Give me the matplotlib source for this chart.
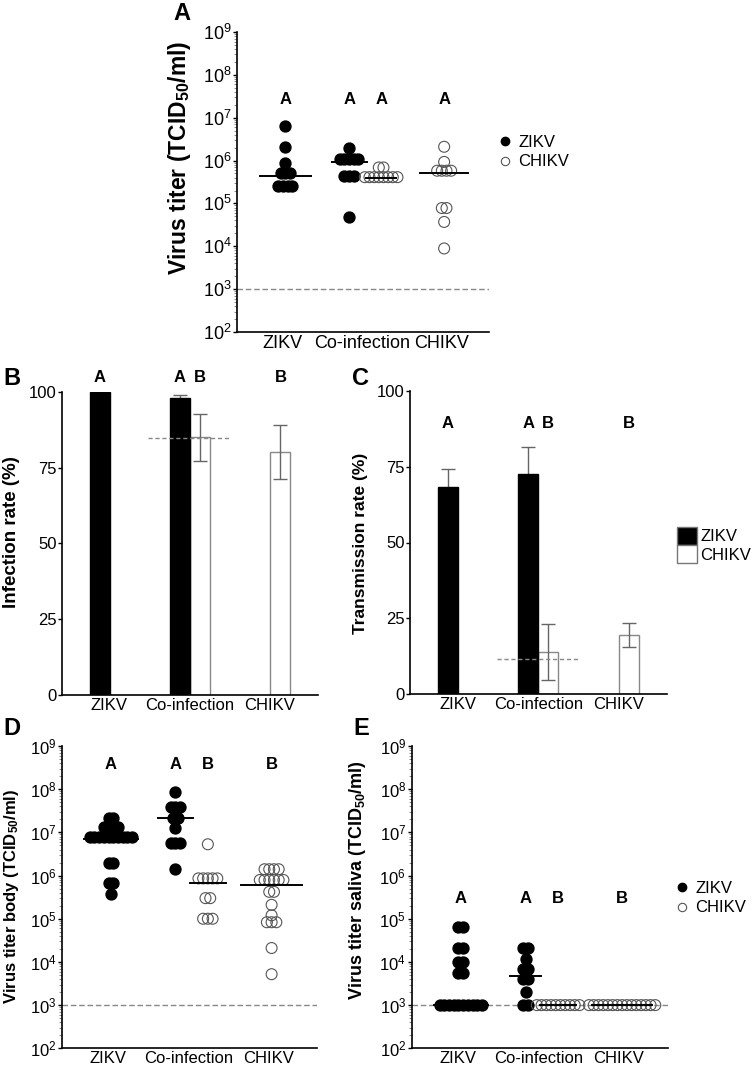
import numpy as np
import matplotlib
matplotlib.use('Agg')
import matplotlib.pyplot as plt
from matplotlib.lines import Line2D
from matplotlib.patches import Patch

plt.rcParams['font.family'] = ['Liberation Sans', 'DejaVu Sans']
plt.rcParams['mathtext.fontset'] = 'custom'
plt.rcParams['mathtext.rm'] = 'Liberation Sans'
plt.rcParams['mathtext.it'] = 'Liberation Sans:italic'
plt.rcParams['mathtext.bf'] = 'Liberation Sans:bold'

groups = ['ZIKV', 'Co-infection', 'CHIKV']

# A: virus titer in the blood meal / inoculum (TCID50/ml)
a_zikv = [6.5e6, 2.1e6, 8.9e5] + [5.2e5] * 3 + [2.5e5] * 4
a_co_zikv = [2.0e6] + [1.1e6] * 5 + [4.4e5] * 3 + [4.8e4]
a_co_chikv = [6.9e5] * 2 + [4.1e5] * 8
a_chikv = [2.1e6, 9.3e5] + [5.8e5] * 4 + [7.8e4] * 2 + [3.7e4, 8.9e3]
a_medians = [4.4e5, 9.1e5, 3.9e5, 5.0e5]
a_letters = ['A', 'A', 'A', 'A']

# B: infection rate (%)
b_zikv = [100.0, 97.8]
b_zikv_err = [0.0, 1.1]
b_chikv = [85.0, 80.0]
b_chikv_err = [7.7, 8.9]
b_expected = 84.6
b_letters = ['A', 'A', 'B', 'B']

# C: transmission rate (%)
c_zikv = [68.4, 72.5]
c_zikv_err = [5.7, 8.9]
c_chikv = [13.9, 19.5]
c_chikv_err = [9.2, 3.9]
c_expected = 11.5
c_letters = ['A', 'A', 'B', 'B']

# D: virus titer body
d_zikv = [2.2e7] * 2 + [1.35e7] * 4 + [8.0e6] * 10 + [2.0e6] * 2 + [6.6e5] * 2 + [3.7e5]
d_co_zikv = [8.5e7] + [3.9e7] * 3 + [2.2e7] * 2 + [1.24e7] + [5.6e6] * 3 + [1.4e6]
d_co_chikv = [5.3e6] + [8.6e5] * 5 + [3.0e5] * 2 + [1.0e5] * 3
d_chikv = [1.4e6] * 4 + [7.9e5] * 6 + [4.2e5] * 2 + [2.1e5, 1.2e5] + [8.3e4] * 3 + [2.1e4, 5.2e3]
d_medians = [7.2e6, 2.1e7, 6.6e5, 5.9e5]
d_letters = ['A', 'A', 'B', 'B']

# E: virus titer saliva
e_zikv = [6.6e4] * 2 + [2.1e4] * 2 + [1.0e4] * 2 + [5.5e3] * 2 + [1e3] * 10
e_co_zikv = [2.1e4] * 2 + [1.15e4] + [6.8e3] * 2 + [4.1e3] * 2 + [2.0e3] + [1e3] * 2
e_co_chikv = [1e3] * 10
e_chikv = [1e3] * 15
e_medians = [1e3, 4.8e3, 1e3, 1e3]
e_letters = ['A', 'A', 'B', 'B']

detection_limit = 1e3

# layout
dot_x = [0.192, 0.445, 0.572, 0.822]
dot_tick_x = [0.18, 0.497, 0.81]
half_w = {'A': [0.10, 0.07, 0.06, 0.095],
          'D': [0.105, 0.07, 0.07, 0.12],
          'E': [0.105, 0.06, 0.07, 0.117]}
step = 0.0185
bar_x_zikv = [1.0, 1.89]
bar_x_chikv = [2.11, 3.0]
bar_tick_x = [1.11, 2.0, 2.88]
bar_w = 0.221
grey_edge = '#555555'

fig = plt.figure(figsize=(7.54, 10.66), dpi=100)
W, H = 754.0, 1066.0


def px_axes(l, t, r, b):
    return fig.add_axes([l / W, 1 - b / H, (r - l) / W, (b - t) / H])


def swarm(vals, center):
    vals = np.asarray(vals, dtype=float)
    xs = np.empty(len(vals))
    for v in np.unique(vals):
        idx = np.where(vals == v)[0]
        n = len(idx)
        xs[idx] = center + (np.arange(n) - (n - 1) / 2.0) * step
    return xs


def style(ax, fs=12):
    for s in ['top', 'right']:
        ax.spines[s].set_visible(False)
    for s in ['left', 'bottom']:
        ax.spines[s].set_linewidth(1.2)
    ax.tick_params(axis='x', length=0, labelsize=fs, pad=2)
    ax.tick_params(axis='y', which='major', length=3, width=1, labelsize=fs, pad=1)


def dot_panel(ax, series, medians, letters, letter_y, key, fs=12):
    ax.set_yscale('log')
    ax.set_ylim(1e2, 1e9)
    ax.set_xlim(0, 1)
    ax.axhline(detection_limit, color='#888888', lw=1, dashes=(4, 2), zorder=1)
    for i, vals in enumerate(series):
        xs = swarm(vals, dot_x[i])
        if i in (0, 1):
            ax.scatter(xs, vals, s=62, color='black', zorder=3, clip_on=False)
        else:
            ax.scatter(xs, vals, s=62, facecolors='none', edgecolors=grey_edge,
                       linewidths=0.8, zorder=3, clip_on=False)
        hw = half_w[key][i]
        ax.plot([dot_x[i] - hw, dot_x[i] + hw], [medians[i]] * 2, color='black',
                lw=1.4, zorder=4)
        ax.text(dot_x[i], letter_y, letters[i], ha='center', va='center',
                fontsize=12, fontweight='bold')
    ax.set_xticks(dot_tick_x)
    ax.set_xticklabels(groups)
    ax.set_yticks([10.0 ** k for k in range(2, 10)])
    style(ax, fs)
    ax.tick_params(axis='y', which='minor', length=2, width=0.6, color='#777777')


def bar_panel(ax, zikv, zikv_err, chikv, chikv_err, expected, letters, letter_y):
    ax.bar(bar_x_zikv, zikv, width=bar_w, color='black', edgecolor='black', zorder=3)
    ax.bar(bar_x_chikv, chikv, width=bar_w, color='white', edgecolor='#888888',
           lw=1, zorder=1)
    xz = [x for x, e in zip(bar_x_zikv, zikv_err) if e > 0]
    yz = [y for y, e in zip(zikv, zikv_err) if e > 0]
    ez = [e for e in zikv_err if e > 0]
    ax.errorbar(xz, yz, yerr=ez, fmt='none', ecolor='#666666', elinewidth=1,
                capsize=5, capthick=1, zorder=2)
    ax.errorbar(bar_x_chikv, chikv, yerr=chikv_err, fmt='none', ecolor='#666666',
                elinewidth=1, capsize=5, capthick=1, zorder=2)
    ax.plot([1.54, 2.44], [expected] * 2, color='#888888', lw=1, dashes=(3, 2),
            zorder=4)
    xs = [bar_x_zikv[0], bar_x_zikv[1], bar_x_chikv[0], bar_x_chikv[1]]
    for x, lab in zip(xs, letters):
        ax.text(x, letter_y, lab, ha='center', va='center', fontsize=12,
                fontweight='bold', clip_on=False)
    ax.set_xlim(0.585, 3.415)
    ax.set_ylim(0, 100)
    ax.set_yticks([0, 25, 50, 75, 100])
    ax.set_xticks(bar_tick_x)
    ax.set_xticklabels(groups)
    style(ax)


label = 'Virus titer%s (TCID$_{\\mathregular{50}}$/ml)'

# A
axA = px_axes(237, 32, 489, 332)
dot_panel(axA, [a_zikv, a_co_zikv, a_co_chikv, a_chikv], a_medians, a_letters,
          2.6e7, 'A', fs=13)
axA.set_ylabel(label % '', fontsize=16.5, fontweight='bold')
axA.yaxis.set_label_coords(-0.175, 0.58)

# B
axB = px_axes(62, 391.7, 318, 695)
bar_panel(axB, b_zikv, b_zikv_err, b_chikv, b_chikv_err, b_expected, b_letters, 104.7)
axB.set_ylabel('Infection rate (%)', fontsize=13.5, fontweight='bold')
axB.yaxis.set_label_coords(-0.164, 0.536)

# C
axC = px_axes(410, 390.7, 666.7, 694.3)
bar_panel(axC, c_zikv, c_zikv_err, c_chikv, c_chikv_err, c_expected, c_letters, 89.2)
axC.set_ylabel('Transmission rate (%)', fontsize=12.5, fontweight='bold')
axC.yaxis.set_label_coords(-0.162, 0.497)

# D
axD = px_axes(62, 746, 317, 1048.3)
dot_panel(axD, [d_zikv, d_co_zikv, d_co_chikv, d_chikv], d_medians, d_letters,
          3.8e8, 'D')
axD.set_ylabel(label % ' body', fontsize=12, fontweight='bold')
axD.yaxis.set_label_coords(-0.16, 0.504)

# E
axE = px_axes(411.7, 746, 667.7, 1048.3)
dot_panel(axE, [e_zikv, e_co_zikv, e_co_chikv, e_chikv], e_medians, e_letters,
          2.9e5, 'E')
axE.set_ylabel(label % ' saliva', fontsize=13, fontweight='bold')
axE.yaxis.set_label_coords(-0.17, 0.556)

# legends
dot_handles = [Line2D([], [], ls='none', marker='o', ms=6, color='black'),
               Line2D([], [], ls='none', marker='o', ms=6, mfc='none',
                      mec=grey_edge, mew=0.8)]
for xf, yf in [(500 / W, 1 - 152.4 / H), (677 / W, 1 - 898.4 / H)]:
    fig.legend(dot_handles, ['ZIKV', 'CHIKV'], loc='center left',
               bbox_to_anchor=(xf, yf), frameon=False, fontsize=12,
               handlelength=0.6, handletextpad=0.5, labelspacing=0.25,
               borderpad=0, borderaxespad=0)

bar_handles = [Patch(facecolor='black', edgecolor='#777777'),
               Patch(facecolor='white', edgecolor='#777777')]
fig.legend(bar_handles, ['ZIKV', 'CHIKV'], loc='center left',
           bbox_to_anchor=(677 / W, 1 - 545 / H), frameon=False, fontsize=12,
           handlelength=1.2, handleheight=1.32, handletextpad=0.2,
           labelspacing=0.0, borderpad=0, borderaxespad=0)

# panel letters
for lab, x, y in [('A', 173, 20), ('B', 3, 385), ('C', 352, 385),
                  ('D', 3, 735), ('E', 353, 735)]:
    fig.text(x / W, 1 - y / H, lab, fontsize=17, fontweight='bold', va='baseline')

fig.savefig('out.png', dpi=100)
